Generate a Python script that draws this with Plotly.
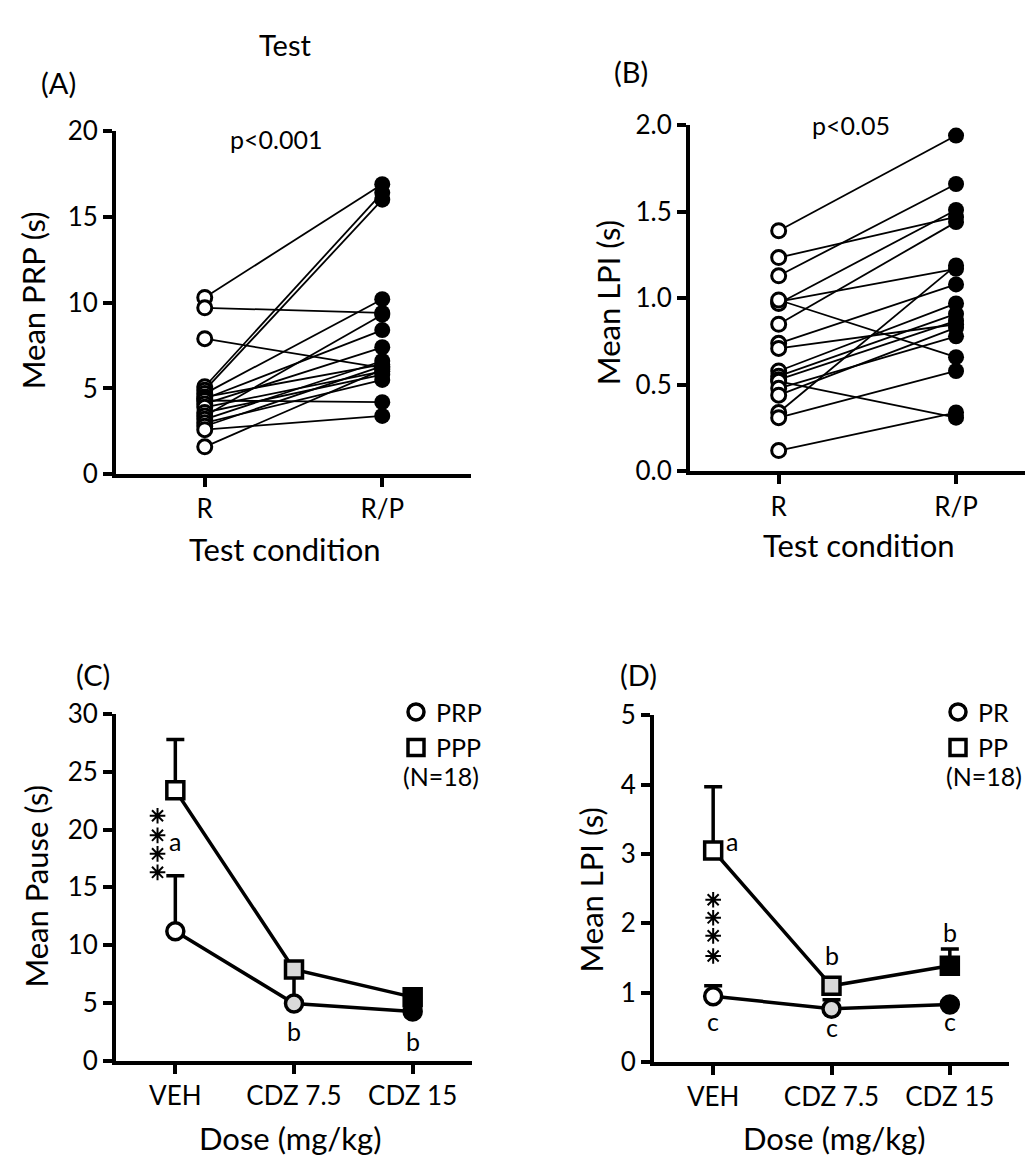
import plotly.graph_objects as go

W, H = 1033, 1163
FONT = "Lato"

# (A) mean post-reinforcement pause per rat, R vs R/P test
conditions = ["R", "R/P"]
prp_r = [10.3, 9.7, 7.9, 5.1, 4.9, 4.7, 4.5, 4.4, 4.3, 4.1, 3.9, 3.6, 3.4, 3.2, 3.0, 2.8, 2.6, 1.6]
prp_rp = [16.9, 9.4, 6.2, 16.4, 16.0, 10.2, 6.4, 8.4, 4.2, 7.4, 6.0, 5.8, 9.3, 6.6, 5.5, 6.3, 3.4, 6.1]

# (B) mean LPI per rat
lpi_r = [1.39, 1.235, 1.13, 0.98, 0.97, 0.99, 0.85, 0.74, 0.71, 0.58, 0.55, 0.53, 0.52, 0.48, 0.44, 0.34, 0.31, 0.12]
lpi_rp = [1.94, 1.47, 1.66, 1.17, 1.51, 0.66, 1.44, 1.08, 0.85, 0.97, 0.91, 0.87, 0.31, 0.78, 0.83, 1.19, 0.58, 0.34]

# (C)/(D) dose response, mean + SEM
doses = ["VEH", "CDZ 7.5", "CDZ 15"]
prp_mean = [11.2, 4.95, 4.25]
prp_sem = [4.8, 2.4, 0.5]
ppp_mean = [23.4, 7.9, 5.5]
ppp_sem = [4.4, 0.6, 0.7]
pr_mean = [0.95, 0.77, 0.83]
pr_sem = [0.15, 0.13, 0.05]
pp_mean = [3.05, 1.10, 1.39]
pp_sem = [0.92, 0.08, 0.24]
dose_fill = ["white", "#d9d9d9", "black"]

# letters over the points: (text, dose, y, xshift)
c_letters = [("a", "VEH", 19.0, 0), ("b", "CDZ 7.5", 2.6, 0), ("b", "CDZ 15", 1.7, 0)]
d_letters = [("a", "VEH", 3.18, 19), ("b", "CDZ 7.5", 1.55, 0), ("b", "CDZ 15", 1.87, 0),
             ("c", "VEH", 0.6, 0), ("c", "CDZ 7.5", 0.5, 0), ("c", "CDZ 15", 0.6, 0)]
# "****" significance marks at VEH
c_stars = [21.2, 19.5, 17.9, 16.3]
d_stars = [2.34, 2.08, 1.82, 1.53]

dose_pos = list(range(len(doses)))


def px(x):
    return x / W


def py(y):
    return 1 - y / H


def pairs(a, b):
    xs, ys = [], []
    for u, v in zip(a, b):
        xs += [conditions[0], conditions[1], None]
        ys += [u, v, None]
    return xs, ys


fig = go.Figure()

for (r, rp, ax) in [(prp_r, prp_rp, ""), (lpi_r, lpi_rp, "2")]:
    xs, ys = pairs(r, rp)
    fig.add_trace(go.Scatter(x=xs, y=ys, mode="lines", line=dict(color="black", width=1.8),
                             xaxis="x" + ax, yaxis="y" + ax, showlegend=False))
    fig.add_trace(go.Scatter(x=[conditions[0]] * len(r), y=r, mode="markers",
                             marker=dict(size=14, color="white", line=dict(color="black", width=3)),
                             xaxis="x" + ax, yaxis="y" + ax, showlegend=False))
    fig.add_trace(go.Scatter(x=[conditions[1]] * len(rp), y=rp, mode="markers",
                             marker=dict(size=16, color="black", line=dict(color="black", width=0)),
                             xaxis="x" + ax, yaxis="y" + ax, showlegend=False))

for (m1, s1, m2, s2, ax, names, leg, stars, dx) in [
        (prp_mean, prp_sem, ppp_mean, ppp_sem, "3", ["PRP", "PPP"], "legend", c_stars, -0.15),
        (pr_mean, pr_sem, pp_mean, pp_sem, "4", ["PR", "PP"], "legend2", d_stars, 0.0)]:
    for mean, sem, sym in [(m1, s1, "circle"), (m2, s2, "square")]:
        fig.add_trace(go.Scatter(
            x=dose_pos, y=mean, mode="lines+markers",
            line=dict(color="black", width=3.5),
            marker=dict(symbol=sym, size=17, color=dose_fill, line=dict(color="black", width=3.5)),
            error_y=dict(type="data", symmetric=False, array=sem, arrayminus=[0] * len(sem),
                         color="black", thickness=3.5, width=9),
            xaxis="x" + ax, yaxis="y" + ax, showlegend=False))
    fig.add_trace(go.Scatter(
        x=[dose_pos[0] + dx] * len(stars), y=stars, mode="markers",
        marker=dict(symbol="asterisk-open", size=13, color="black", line=dict(color="black", width=2)),
        xaxis="x" + ax, yaxis="y" + ax, showlegend=False))
    for name, sym in zip(names, ["circle", "square"]):
        fig.add_trace(go.Scatter(
            x=[None], y=[None], mode="markers", name=name,
            marker=dict(symbol=sym, size=16, color="white", line=dict(color="black", width=3.5)),
            xaxis="x" + ax, yaxis="y" + ax, legend=leg, showlegend=True))

axis_common = dict(showline=True, linewidth=4, linecolor="black", ticks="outside", ticklen=9,
                   tickwidth=4, tickcolor="black", showgrid=False, zeroline=False,
                   tickfont=dict(family=FONT, size=26, color="black"), fixedrange=True)
dose_axis = dict(axis_common, type="linear", range=[-0.5, 2.5], tickvals=dose_pos, ticktext=doses)

fig.update_layout(
    width=W, height=H, margin=dict(l=0, r=0, t=0, b=0),
    plot_bgcolor="white", paper_bgcolor="white",
    font=dict(family=FONT, color="black"),
    xaxis=dict(axis_common, domain=[px(108), px(463)], type="category", categoryorder="array",
               categoryarray=conditions, range=[-0.5, 1.5], anchor="y"),
    yaxis=dict(axis_common, domain=[py(462), py(109)], range=[0, 20], tickvals=[0, 5, 10, 15, 20], anchor="x"),
    xaxis2=dict(axis_common, domain=[px(682), 1.0], type="category", categoryorder="array",
                categoryarray=conditions, range=[-0.5, 1.479], anchor="y2"),
    yaxis2=dict(axis_common, domain=[py(459), py(103)], range=[0, 2], tickvals=[0, 0.5, 1, 1.5, 2],
                tickformat=".1f", anchor="x2"),
    xaxis3=dict(dose_axis, domain=[px(108), px(464)], anchor="y3"),
    yaxis3=dict(axis_common, domain=[py(1065), py(708.5)], range=[0, 30], tickvals=[0, 5, 10, 15, 20, 25, 30],
                anchor="x3"),
    xaxis4=dict(dose_axis, domain=[px(646), px(1001)], anchor="y4"),
    yaxis4=dict(axis_common, domain=[py(1066.5), py(709.7)], range=[0, 5], tickvals=[0, 1, 2, 3, 4, 5],
                anchor="x4"),
    legend=dict(x=px(388), y=py(683), xanchor="left", yanchor="top", itemwidth=30,
                font=dict(family=FONT, size=25, color="black"), bgcolor="rgba(0,0,0,0)", tracegroupgap=0),
    legend2=dict(x=px(930), y=py(683), xanchor="left", yanchor="top", itemwidth=30,
                 font=dict(family=FONT, size=25, color="black"), bgcolor="rgba(0,0,0,0)", tracegroupgap=0),
)

ann = []


def text(x, y, s, size, angle=0):
    ann.append(dict(x=px(x), y=py(y), xref="paper", yref="paper", text=s, showarrow=False,
                    textangle=angle, font=dict(family=FONT, size=size, color="black"),
                    xanchor="center", yanchor="middle"))


text(277, 20, "Test", 29)
text(50, 59, "(A)", 29)
text(623, 48, "(B)", 29)
text(85, 668, "(C)", 29)
text(630, 668, "(D)", 29)
text(268, 117, "p&lt;0.001", 25)
text(843, 103, "p&lt;0.05", 25)
text(25, 283, "Mean PRP (s)", 31, -90)
text(277, 539, "Test condition", 31)
text(600, 286, "Mean LPI (s)", 31, -90)
text(851, 535, "Test condition", 31)
text(28, 886, "Mean Pause (s)", 31, -90)
text(282, 1144, "Dose (mg/kg)", 31)
text(583, 890, "Mean LPI (s)", 31, -90)
text(826, 1144, "Dose (mg/kg)", 31)
text(433, 772, "(N=18)", 25)
text(976, 772, "(N=18)", 25)

for letters, ax in [(c_letters, "3"), (d_letters, "4")]:
    for s, xd, yd, sh in letters:
        ann.append(dict(x=doses.index(xd), y=yd, xref="x" + ax, yref="y" + ax, text=s, showarrow=False,
                        xshift=sh, font=dict(family=FONT, size=25, color="black")))

fig.update_layout(annotations=ann)

fig.write_html("out.html")
